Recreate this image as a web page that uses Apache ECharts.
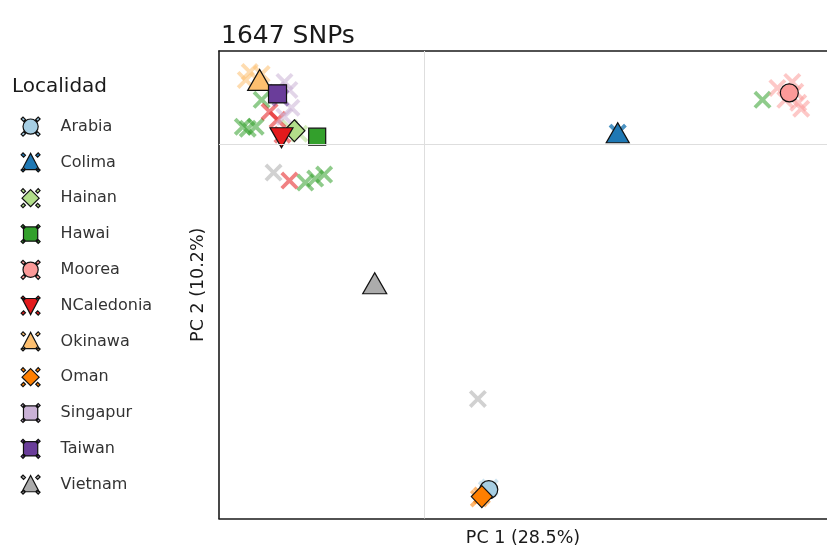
<!DOCTYPE html>
<html>
<head>
<meta charset="utf-8">
<script src="https://cdn.jsdelivr.net/npm/echarts@6/dist/echarts.min.js"></script>
<style>html,body{margin:0;padding:0;background:#fff}#c{width:827px;height:552px}</style>
</head>
<body>
<div id="c"></div>
<script>
const categories = ['Arabia','Colima','Hainan','Hawai','Moorea','NCaledonia','Okinawa','Oman','Singapur','Taiwan','Vietnam'];
const colors = ['#A6CEE3','#1F78B4','#B2DF8A','#33A02C','#FB9A99','#E31A1C','#FDBF6F','#FF7F00','#CAB2D6','#6A3D9A','#ABABAB'];
const xAxisName = 'PC 1 (28.5%)';
const yAxisName = 'PC 2 (10.2%)';
const chartTitle = '1647 SNPs';
const legendTitle = 'Localidad';

// individual samples (PC1, PC2)
const arabiaSamples = [[0.66,-3.44],[0.63,-3.46]];
const colimaSamples = [[1.95,0.12],[1.95,0.12]];
const hainanSamples = [[-1.26,0.11],[-1.36,0.17]];
const hawaiSamples = [[-1.83,0.18],[-1.70,0.18],[-1.64,0.45],[-1.78,0.16],[-1.20,-0.38],[-1.01,-0.30],[-1.10,-0.34],[3.41,0.45]];
const mooreaSamples = [[3.56,0.57],[3.71,0.63],[3.77,0.42],[3.64,0.45],[3.74,0.53],[3.80,0.36]];
const ncaledoniaSamples = [[-1.36,-0.36],[-1.56,0.33],[-1.48,0.25],[-1.43,0.10]];
const okinawaSamples = [[-1.76,0.73],[-1.80,0.65],[-1.64,0.71]];
const omanSamples = [[0.58,-3.52],[0.55,-3.55]];
const singapurSamples = [[-1.41,0.63],[-1.34,0.37],[-1.41,0.28],[-1.36,0.55]];
const taiwanSamples = [[-1.48,0.52],[-1.45,0.47]];
const vietnamSamples = [[-1.52,-0.28],[0.54,-2.55]];

// centroids
const arabiaCentroid = [0.65,-3.46];
const colimaCentroid = [1.95,0.12];
const hainanCentroid = [-1.31,0.14];
const hawaiCentroid = [-1.08,0.08];
const mooreaCentroid = [3.68,0.52];
const ncaledoniaCentroid = [-1.44,0.07];
const okinawaCentroid = [-1.66,0.65];
const omanCentroid = [0.58,-3.53];
const singapurCentroid = [-1.48,0.51];
const taiwanCentroid = [-1.48,0.51];
const vietnamCentroid = [-0.50,-1.39];

const samples = [arabiaSamples,colimaSamples,hainanSamples,hawaiSamples,mooreaSamples,ncaledoniaSamples,okinawaSamples,omanSamples,singapurSamples,taiwanSamples,vietnamSamples];
const centroids = [arabiaCentroid,colimaCentroid,hainanCentroid,hawaiCentroid,mooreaCentroid,ncaledoniaCentroid,okinawaCentroid,omanCentroid,singapurCentroid,taiwanCentroid,vietnamCentroid];

const X_PATH = 'path://M1.5,0 L5,3.5 L8.5,0 L10,1.5 L6.5,5 L10,8.5 L8.5,10 L5,6.5 L1.5,10 L0,8.5 L3.5,5 L0,1.5 Z';
const DOWN_TRI = 'path://M0,0 L10,0 L5,8.66 Z';
const shapes = ['circle','triangle','diamond','rect','circle',DOWN_TRI,'triangle','diamond','rect','rect','triangle'];
const sizes = [[18,18],[23,20],[21,22],[17,17],[18,18],[23,20],[24,21],[21,22],[17,17],[18,18],[24,21]];

// legend keys: centroid shape overlaid with the corners of the sample cross
const NUBS = 'M0,2 L2,0 L4.6,2.6 L2.6,4.6 Z M20,2 L18,0 L15.4,2.6 L17.4,4.6 Z M0,18 L2,20 L4.6,17.4 L2.6,15.4 Z M20,18 L18,20 L15.4,17.4 L17.4,15.4 Z';
const KEY = {
  circle: 'M18,10 A8,8 0 1 1 2,10 A8,8 0 1 1 18,10 Z',
  triangle: 'M10,0.5 L19,17.5 L1,17.5 Z',
  diamond: 'M10,1 L19,10 L10,19 L1,10 Z',
  rect: 'M2.5,2.5 L17.5,2.5 L17.5,17.5 L2.5,17.5 Z',
  down: 'M1,2.5 L19,2.5 L10,19.5 Z'
};
const keyNames = ['circle','triangle','diamond','rect','circle','down','triangle','diamond','rect','rect','triangle'];

const FONT = 'DejaVu Sans';
const frameLine = {show:true, onZero:false, lineStyle:{color:'#1a1a1a', width:1.6}};

const series = [];
series.push({
  type:'scatter', name:'__zero', data:[], silent:true, z:1,
  markLine:{silent:true, symbol:'none', label:{show:false},
    lineStyle:{color:'#dedede', width:1, type:'solid'},
    data:[{xAxis:0},{yAxis:0}]}
});
categories.forEach((c,i)=>{
  series.push({type:'scatter', name:c, data:samples[i], symbol:X_PATH, symbolSize:18, z:2,
    itemStyle:{color:colors[i], opacity:0.55}, silent:true});
});
categories.forEach((c,i)=>{
  series.push({type:'scatter', name:c, data:[centroids[i]], symbol:shapes[i], symbolSize:sizes[i], z:3,
    itemStyle:{color:colors[i], borderColor:'#111', borderWidth:1.2, opacity:1}, silent:true});
});

const chart = echarts.init(document.getElementById('c'));
chart.setOption({
  animation:false,
  backgroundColor:'#fff',
  textStyle:{fontFamily:FONT},
  title:{text:chartTitle, left:216, top:19, textStyle:{fontSize:25, fontWeight:'normal', color:'#1a1a1a', fontFamily:FONT}},
  graphic:[{type:'text', left:12, top:77, style:{text:legendTitle, fontSize:20, fill:'#1a1a1a', fontFamily:FONT}}],
  legend:{
    orient:'vertical', left:15.5, top:111.5, itemWidth:19, itemHeight:19, itemGap:15.6,
    data: categories.map((c,i)=>({name:c, icon:'path://' + KEY[keyNames[i]] + ' ' + NUBS,
      itemStyle:{color:colors[i], borderColor:'#111', borderWidth:1.2, opacity:1}})),
    textStyle:{fontSize:16, lineHeight:19, color:'#333', fontFamily:FONT, padding:[0,0,0,15.5]},
    selectedMode:false
  },
  grid:{left:219, top:51, width:613, height:469, show:false, containLabel:false},
  xAxis:[{type:'value', min:-2.07, max:4.06, name:xAxisName, nameLocation:'middle', nameGap:10.5, position:'bottom',
    nameTextStyle:{fontSize:17.5, color:'#1a1a1a', verticalAlign:'top', fontFamily:FONT},
    axisLine:frameLine, axisTick:{show:false}, axisLabel:{show:false}, splitLine:{show:false}},
    {type:'value', min:-2.07, max:4.06, position:'top',
    axisLine:frameLine, axisTick:{show:false}, axisLabel:{show:false}, splitLine:{show:false}}],
  yAxis:{type:'value', min:-3.75, max:0.94, name:yAxisName, nameLocation:'middle', nameGap:12, position:'left',
    nameTextStyle:{fontSize:17.5, color:'#1a1a1a', fontFamily:FONT},
    axisLine:frameLine, axisTick:{show:false}, axisLabel:{show:false}, splitLine:{show:false}},
  series:series
});
</script>
</body>
</html>
